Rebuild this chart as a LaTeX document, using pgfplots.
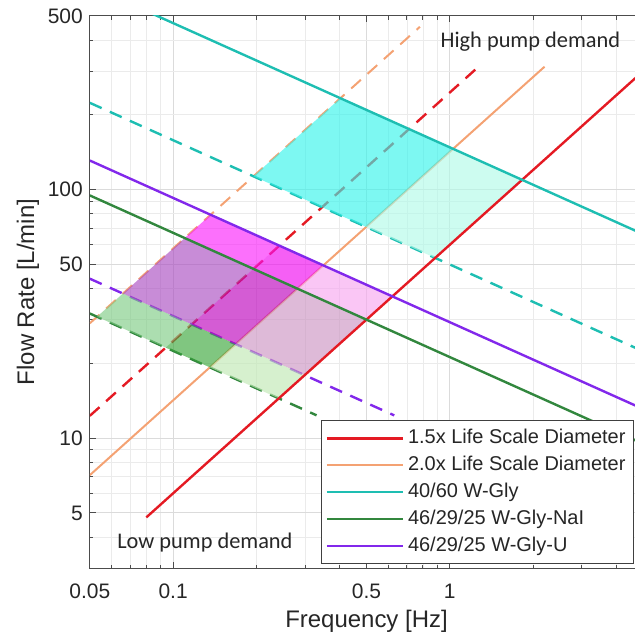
\documentclass[border=0pt]{standalone}
\usepackage{fontspec}
\setmainfont{Liberation Sans}
\newfontfamily\notefont{Carlito}
\usepackage{pgfplots}
\pgfplotsset{compat=1.18}

% line colours
\definecolor{dred}{RGB}{228,26,35}
\definecolor{dorange}{RGB}{244,162,115}
\definecolor{fcyan}{RGB}{30,190,178}
\definecolor{fgreen}{RGB}{50,135,62}
\definecolor{fpurple}{RGB}{130,40,235}
% region fills (drawn at 0.65 opacity)
\definecolor{cA}{RGB}{55,244,235}
\definecolor{cB}{RGB}{178,250,232}
\definecolor{mA}{RGB}{250,35,250}
\definecolor{mAB}{RGB}{240,9,240}
\definecolor{mB}{RGB}{247,167,240}
\definecolor{oA}{RGB}{170,78,193}
\definecolor{oAB}{RGB}{189,4,189}
\definecolor{oB}{RGB}{204,149,195}
\definecolor{gA}{RGB}{127,204,133}
\definecolor{gAB}{RGB}{60,167,60}
\definecolor{gB}{RGB}{192,232,180}

\begin{document}
\begin{tikzpicture}
\begin{axis}[
    xmode=log, ymode=log,
    scale only axis, width=277.2pt, height=276.6pt,
    xmin=0.05, xmax=5, ymin=3, ymax=500,
    xtick={0.05,0.1,0.5,1}, xticklabels={0.05,0.1,0.5,1},
    ytick={5,10,50,100,500}, yticklabels={5,10,50,100,500},
    minor xtick={0.06,0.07,0.08,0.09,0.2,0.3,0.4,0.6,0.7,0.8,0.9,2,3,4},
    minor ytick={4,6,7,8,9,20,30,40,60,70,80,90,200,300,400},
    grid=both,
    major grid style={draw=black!14, line width=0.5pt},
    minor grid style={draw=black!8, line width=0.4pt},
    axis line style={draw=black!70, line width=0.5pt},
    tick style={draw=black!70, line width=0.5pt},
    major tick length=3pt, minor tick length=1.8pt,
    /pgf/number format/assume math mode=true,
    tick label style={font=\fontsize{10.5}{12}\selectfont, text=black!85},
    xticklabel style={yshift=-4.5pt},
    xlabel={Frequency [Hz]}, ylabel={Flow Rate [L/min]},
    label style={font=\fontsize{12}{14}\selectfont, text=black!85},
    xlabel style={at={(axis description cs:0.5,-0.096)}, anchor=center},
    ylabel style={at={(axis description cs:-0.112,0.5)}, anchor=center},
    legend style={at={(rel axis cs:1,0)}, anchor=south east, xshift=-4.6pt, yshift=2pt,
        draw=black!75, line width=0.5pt, fill=white, inner sep=2pt,
        font=\fontsize{10}{12}\selectfont, text=black!85, row sep=0pt,
        nodes={inner sep=2pt, text height=7.2pt, text depth=2.3pt}},
    legend image code/.code={\draw[#1] (0pt,0pt) -- (38pt,0pt);},
    legend cell align=left,
]
% dashed bounds (under the fills)
\addplot[dred, line width=1.2pt, dash pattern=on 6.5pt off 4.5pt, forget plot] coordinates {(0.05,12.3) (1.27,312.4)};
\addplot[dorange, line width=1.0pt, dash pattern=on 6.5pt off 4.5pt, forget plot] coordinates {(0.05,29.0) (0.78,452.4)};
\addplot[dorange, line width=1.0pt, forget plot] coordinates {(0.05,7.1) (2.2,312.4)};
\addplot[fcyan, line width=1.2pt, dash pattern=on 6.5pt off 4.5pt, forget plot] coordinates {(0.05,223.6) (5,22.36)};
\addplot[fpurple, line width=1.2pt, dash pattern=on 6.5pt off 4.5pt, forget plot] coordinates {(0.05,43.83) (0.63,12.35)};
\addplot[fgreen, line width=1.2pt, dash pattern=on 6.5pt off 4.5pt, forget plot] coordinates {(0.05,31.75) (0.33,12.36)};

% operating regions
\addplot[draw=none, fill=cA, fill opacity=0.65, forget plot] coordinates {(0.4024,233.4) (1.0280,146.0) (0.4986,70.8) (0.1952,113.2)};
\addplot[draw=none, fill=cB, fill opacity=0.65, forget plot] coordinates {(1.0280,146.0) (1.8258,109.5) (0.8855,53.13) (0.4986,70.8)};
\addplot[draw=none, fill=mA, fill opacity=0.65, forget plot] coordinates {(0.13668,79.27) (0.24208,59.55) (0.19516,48.01) (0.11015,63.89)};
\addplot[draw=none, fill=mAB, fill opacity=0.65, forget plot] coordinates {(0.24208,59.55) (0.34918,49.59) (0.28134,39.95) (0.19516,48.01)};
\addplot[draw=none, fill=mB, fill opacity=0.65, forget plot] coordinates {(0.34918,49.59) (0.62013,37.21) (0.49975,29.99) (0.28134,39.95)};
\addplot[draw=none, fill=oA, fill opacity=0.65, forget plot] coordinates {(0.11015,63.89) (0.19516,48.01) (0.11665,28.70) (0.06584,38.19)};
\addplot[draw=none, fill=oAB, fill opacity=0.65, forget plot] coordinates {(0.19516,48.01) (0.28134,39.95) (0.16826,23.89) (0.11665,28.70)};
\addplot[draw=none, fill=oB, fill opacity=0.65, forget plot] coordinates {(0.28134,39.95) (0.49975,29.99) (0.29880,17.93) (0.16826,23.89)};
\addplot[draw=none, fill=gA, fill opacity=0.65, forget plot] coordinates {(0.06584,38.19) (0.11665,28.70) (0.09410,23.14) (0.05311,30.81)};
\addplot[draw=none, fill=gAB, fill opacity=0.65, forget plot] coordinates {(0.11665,28.70) (0.16826,23.89) (0.13574,19.28) (0.09410,23.14)};
\addplot[draw=none, fill=gB, fill opacity=0.65, forget plot] coordinates {(0.16826,23.89) (0.29880,17.93) (0.24103,14.46) (0.13574,19.28)};

% solid bounds
\addplot[dred, line width=1.2pt, forget plot] coordinates {(0.08,4.8) (5,300)};
\addplot[fcyan, line width=1.2pt, forget plot] coordinates {(0.05,661.9) (5,66.19)};
\addplot[fgreen, line width=1.2pt, forget plot] coordinates {(0.05,94.81) (5,9.481)};
\addplot[fpurple, line width=1.2pt, forget plot] coordinates {(0.05,131.0) (5,13.10)};

\addlegendimage{dred, line width=1.2pt}
\addlegendentry{1.5x Life Scale Diameter}
\addlegendimage{dorange, line width=1.0pt}
\addlegendentry{2.0x Life Scale Diameter}
\addlegendimage{fcyan, line width=1.2pt}
\addlegendentry{40/60 W-Gly}
\addlegendimage{fgreen, line width=1.2pt}
\addlegendentry{46/29/25 W-Gly-NaI}
\addlegendimage{fpurple, line width=1.2pt}
\addlegendentry{46/29/25 W-Gly-U}

\node[font=\notefont\fontsize{11.2}{13}\selectfont, text=black!85] at (axis cs:1.956,393) {High pump demand};
\node[font=\notefont\fontsize{11.2}{13}\selectfont, text=black!85] at (axis cs:0.1303,3.79) {Low pump demand};
\end{axis}
\pgfresetboundingbox
\path[use as bounding box] ([xshift=-45pt,yshift=-34pt]current axis.south west) rectangle ([xshift=-4.1pt,yshift=8pt]current axis.north east);
\end{tikzpicture}
\end{document}
